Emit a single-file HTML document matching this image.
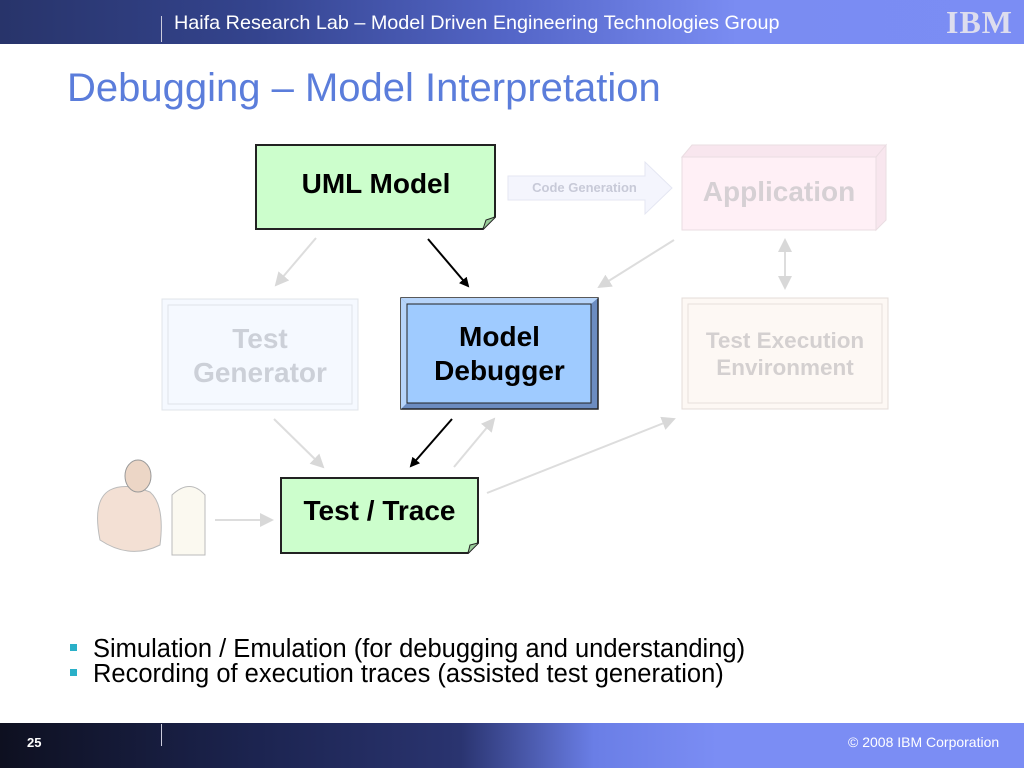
<!DOCTYPE html>
<html><head><style>
body{margin:0;width:1024px;height:768px;overflow:hidden;background:#fff;font-family:"Liberation Sans",sans-serif;position:relative}
.hdr{position:absolute;left:0;top:0;width:1024px;height:44px;background:linear-gradient(90deg,#28346a 0%,#34448e 25%,#5466c8 50%,#7a8cf2 72%,#7b8df4 100%)}
.ftr{position:absolute;left:0;top:723px;width:1024px;height:45px;background:linear-gradient(90deg,#0e1020 0%,#1c2450 25%,#2a3470 45%,#6a7ee6 58%,#7b8df4 70%,#7b8df4 100%)}
.t{position:absolute;white-space:nowrap}
</style></head><body>
<div class="hdr"></div>
<div class="t" style="left:161px;top:16px;width:1px;height:26px;background:#ccd"></div>
<div class="t" style="left:174px;top:12px;font-size:19.8px;color:#fff">Haifa Research Lab – Model Driven Engineering Technologies Group</div>
<div class="t" style="left:946px;top:4px;font-size:32px;font-weight:bold;color:#dde;letter-spacing:1px;font-family:'Liberation Serif',serif">IBM</div>
<div class="t" style="left:67px;top:66px;font-size:40px;color:#5b7ddb">Debugging – Model Interpretation</div>
<svg width="1024" height="768" style="position:absolute;left:0;top:0">
<defs>
<marker id="ab" markerWidth="10" markerHeight="10" refX="8" refY="5" orient="auto" markerUnits="userSpaceOnUse"><path d="M0,0L10,5L0,10z" fill="#000"/></marker>
<marker id="ag" markerWidth="14" markerHeight="14" refX="12" refY="7" orient="auto" markerUnits="userSpaceOnUse"><path d="M0,0L14,7L0,14z" fill="#d8d8d8"/></marker>
<marker id="ag2" markerWidth="14" markerHeight="14" refX="12" refY="7" orient="auto-start-reverse" markerUnits="userSpaceOnUse"><path d="M0,0L14,7L0,14z" fill="#d8d8d8"/></marker>
</defs>
<path d="M256,145H495V217L483,229H256Z" fill="#ccfecc" stroke="#222" stroke-width="2"/>
<path d="M483,229L486,220L495,217" fill="#9c9" stroke="#222" stroke-width="1"/>
<path d="M508,176H645V162L672,188L645,214V200H508Z" fill="#f4f5fd" stroke="#e4e6f2"/>
<path d="M682,157H876V230H682Z" fill="#fff0f6" stroke="#eadde2"/>
<path d="M682,157L692,145H886L876,157Z M876,157L886,145V220L876,230Z" fill="#f8e6ee" stroke="#eadde2"/>
<rect x="162" y="299" width="196" height="111" fill="#f5f9ff" stroke="#e0e4ea"/>
<rect x="168" y="305" width="184" height="99" fill="none" stroke="#e0e4ea"/>
<rect x="401" y="298" width="197" height="111" fill="#6c8cc0" stroke="#222" stroke-width="1.5"/>
<path d="M401,298H598L591,304H407Z" fill="#b6d4fa"/>
<path d="M401,298L407,304V403L401,409Z" fill="#b6d4fa"/>
<rect x="407" y="304" width="184" height="99" fill="#9fcbff" stroke="#222"/>
<rect x="682" y="298" width="206" height="111" fill="#fdf8f4" stroke="#e4dcd8"/>
<rect x="688" y="304" width="194" height="99" fill="none" stroke="#e8e0dc"/>
<path d="M281,478H478V543L468,553H281Z" fill="#ccfecc" stroke="#222" stroke-width="2"/>
<path d="M468,553L470,545L478,543" fill="#9c9" stroke="#222"/>
<line x1="428" y1="239" x2="468" y2="286" stroke="#000" stroke-width="2" marker-end="url(#ab)"/>
<line x1="452" y1="419" x2="411" y2="466" stroke="#000" stroke-width="2" marker-end="url(#ab)"/>
<line x1="316" y1="238" x2="276" y2="285" stroke="#ddd" stroke-width="2" marker-end="url(#ag)"/>
<line x1="674" y1="240" x2="599" y2="287" stroke="#ddd" stroke-width="2" marker-end="url(#ag)"/>
<line x1="785" y1="240" x2="785" y2="288" stroke="#ddd" stroke-width="2" marker-start="url(#ag2)" marker-end="url(#ag)"/>
<line x1="274" y1="419" x2="323" y2="467" stroke="#ddd" stroke-width="2" marker-end="url(#ag)"/>
<line x1="454" y1="467" x2="494" y2="419" stroke="#ddd" stroke-width="2" marker-end="url(#ag)"/>
<line x1="487" y1="493" x2="674" y2="419" stroke="#ddd" stroke-width="2" marker-end="url(#ag)"/>
<line x1="215" y1="520" x2="272" y2="520" stroke="#ddd" stroke-width="2" marker-end="url(#ag)"/>
<path d="M100,540Q92,500 110,490Q125,482 150,492Q165,505 160,545Q130,560 100,540Z" fill="#f3e0d4" stroke="#bbb"/>
<ellipse cx="138" cy="476" rx="13" ry="16" fill="#ecd6c6" stroke="#999"/>
<path d="M172,495Q190,478 205,495V555H172Z" fill="#fbf9f0" stroke="#bbb"/>
</svg>
<div class="t" style="left:256px;top:168px;width:240px;text-align:center;font-size:28px;font-weight:bold">UML Model</div>
<div class="t" style="left:512px;top:180px;width:145px;text-align:center;font-size:13px;font-weight:bold;color:#c8cad8">Code Generation</div>
<div class="t" style="left:682px;top:176px;width:194px;text-align:center;font-size:28px;font-weight:bold;color:#d6d0d4">Application</div>
<div class="t" style="left:162px;top:322px;width:196px;text-align:center;font-size:28px;font-weight:bold;color:#ccd0d8;line-height:34px">Test<br>Generator</div>
<div class="t" style="left:401px;top:320px;width:197px;text-align:center;font-size:28px;font-weight:bold;line-height:34px">Model<br>Debugger</div>
<div class="t" style="left:682px;top:327px;width:206px;text-align:center;font-size:22.5px;font-weight:bold;color:#d4d0d0;line-height:27px">Test Execution<br>Environment</div>
<div class="t" style="left:281px;top:495px;width:197px;text-align:center;font-size:28px;font-weight:bold">Test / Trace</div>
<div class="t" style="left:70px;top:637px;font-size:25.5px;line-height:25px;color:#000">
<div><span style="display:inline-block;width:7px;height:7px;background:#2ab0c8;vertical-align:middle;margin-right:16px;position:relative;top:-3px"></span>Simulation / Emulation (for debugging and understanding)</div>
<div><span style="display:inline-block;width:7px;height:7px;background:#2ab0c8;vertical-align:middle;margin-right:16px;position:relative;top:-3px"></span>Recording of execution traces (assisted test generation)</div>
</div>
<div class="ftr"></div>
<div class="t" style="left:161px;top:724px;width:1px;height:22px;background:#ccd"></div>
<div class="t" style="left:27px;top:735px;font-size:13px;font-weight:bold;color:#fff">25</div>
<div class="t" style="left:848px;top:734px;font-size:14px;color:#fff">© 2008 IBM Corporation</div>
</body></html>
